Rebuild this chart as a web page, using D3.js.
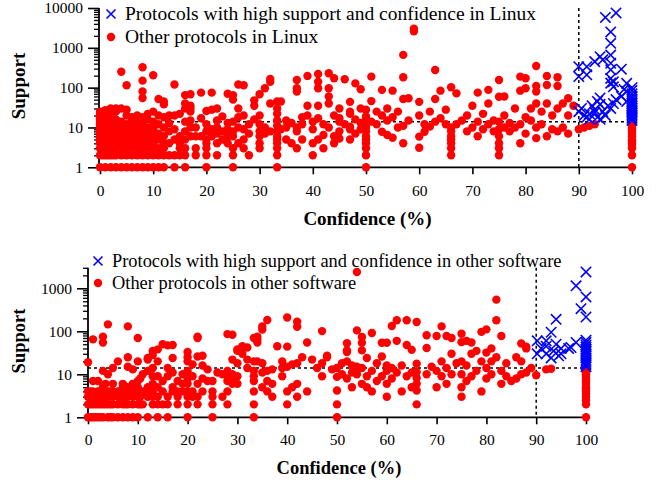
<!DOCTYPE html>
<html><head><meta charset="utf-8">
<script src="https://cdn.jsdelivr.net/npm/d3@7"></script>
<style>
body{margin:0;background:#fff}
svg{display:block}
text{font-family:"Liberation Serif","Times New Roman",serif;fill:#000}
</style>
</head><body>
<svg id="c" width="657" height="480"></svg>
<script>
// ---------- DATA (confidence %, support) ----------
const xTickValues = [0,10,20,30,40,50,60,70,80,90,100];
const yTicksLinux = [1,10,100,1000,10000];
const yTicksOther = [1,10,100,1000];
const supportThreshold = 14;
const confidenceThreshold = 90;

const legendLinux = ["Protocols with high support and confidence in Linux","Other protocols in Linux"];
const legendOther = ["Protocols with high support and confidence in other software","Other protocols in other software"];

// Linux: high support & confidence (blue x)
const linuxHigh = [
 [90,335],[90,190],[91.5,335],[91.5,210],[93,450],[94,600],[94.5,500],[95,5800],[97,7500],
 [96,2500],[96,1300],[96,660],[96,410],[96,280],[96,170],[96,130],[98,290],[96.5,140],[96.5,105],
 [99,128],[100,100],[99,80],[98.5,90],
 [90,25],[90.5,30],[91,20],[92,22],[92.5,35],[93,28],[93.5,45],[94,38],[93.5,18],[94,16],[95,20],
 [96,30],[96.5,40],[97,50],[98,60],[99,45],[91.5,18],[93,24],[94.5,25],[95.5,35],[92,16],[94,55],
 [100,15],[100,17],[100,19],[100,21],[100,23],[100,25],[100,28],[100,31],[100,35],[100,40],
 [100,45],[100,52],[100,60],[100,70],[100,85]
];
// Linux: other protocols (red dots), grouped as [confidence, [supports]]
const linuxOther = [
 [0,[1,2,3,4,5,6,7,8,9,10,12,14,16,18,20,22,25]],[0.5,[2,3,5,7,9,11,13]],
 [1,[1,2,3,4,5,6,8,10,13,17,22,27]],[1.5,[2,3,4,6,9]],[2,[1,2,3,4,5,6,7,9,11,15,20,30]],
 [2.5,[2,3,5,8,12]],[3,[1,2,3,4,5,7,9,12,16,25,30]],[4,[1,2,3,4,5,6,8,10,14,30,250]],
 [4.5,[3,5,7]],[5,[1,2,3,4,6,8,12,20,28,115]],[6,[1,2,3,4,5,7,10,15,18]],[6.5,[4,6,8]],
 [7,[1,2,3,4,5,6,9,13,20]],[8,[1,2,3,4,6,8,12,18,55,80,150,325]],[9,[1,2,3,4,5,7,10,16,22]],
 [10,[1,2,3,4,6,9,14,25,205]],[11,[1,2,3,5,7,12,20,52]],[12,[1,2,3,4,6,10,18,38,45]],
 [13,[2,4,8,13,20]],[14,[1,2,5,9,20,120]],[15,[2,3,4,6,22]],[16,[1,2,3,5,8,14,30,40,65]],
 [17,[6,10,15,25,30,35,68]],[18,[2,3,6,10]],[19,[6,17,75]],[20,[1,2,3,4,5,8,12,26]],
 [21,[6,7,9,28,75]],[22,[2,4,7,10,15,30]],[23,[5,8,19]],[24,[4,6,9,13,70]],
 [25,[1,2,3,6,8,14,50,65]],[26,[4,10,18,30,120]],[27,[3,5,9,20,115]],[28,[2,7,12]],
 [29,[16,35,48]],[30,[3,4,6,8,12,20,68]],[31,[7,10,97]],[32,[8,40,140,165]],
 [33.3,[1,2,3,4,5,6,8,11,15,22,30,45]],[34,[9,45]],[35,[5,10,15]],[36,[4,13]],
 [37,[3,8,10,80,97,156]],[38,[5,12,18]],[39,[20,35,197]],[40,[2,4,9,14]],
 [41,[5,17,35,97,140,220]],[42,[3,6.5,12]],[43,[10,40,60,97,230]],[44,[4,6,20,172]],[45,[5.3,8,14,17,30]],
 [46,[12,163]],[47,[5,9,10.5,22,25,44]],[48,[7,16,128]],[49,[9,13,30,91]],
 [50,[1,2,3,4,5,6,8,10,13,16,19,28]],[51,[14,46,189]],[52,[12,25]],[53,[7.8,20,88]],
 [54,[6.5,15,30]],[55,[5.5,18,84]],[56,[10,25]],[57,[4,11,52,183,665]],[58,[15,54]],
 [59,[2600,3000]],[60,[3.1,5.9,20,44]],[61,[7.8,12]],[62,[10.5,25]],[63,[14,52,277]],
 [64,[17,84]],[65,[12,28]],[66,[2,3,4,5,6,8,10,102]],[67,[12,72]],[68,[15]],[69,[8,20]],
 [70,[10,35]],[71,[6,14,75]],[72,[9,22]],[73,[12,40,88]],[74,[8,15]],
 [75,[2,3,4,6,9,14,59,156]],[76,[10,20,60]],[77,[8,13]],[78,[10,30]],[79,[4,12,84,189]],
 [80,[7,18,97,172]],[81,[15,30]],[82,[5.4,10,40,80,110,350]],[83,[12,25]],[84,[6,40,117,197]],
 [85,[9,20]],[86,[8,30,110,183]],[87,[10,40]],[88,[7,20,54]],[89,[35]],[90,[9]],[91,[10]],
 [92,[11]],[93,[12]],
 [100,[1,2,3,3.5,4,4.5,5,6,7,8,9,10,11,12,13]]
];

// Other software: high support & confidence (blue x)
const otherHigh = [
 [90.2,60],[90.2,30],[92,60],[92,30],[92,45],[93,95],[94,190],[93,24],[93.5,35],[94.5,27],
 [95,40],[96.5,40],[97,42],[98,55],[98,1140],[99,335],[100,2400],[100,630],[100,215],
 [91,40],[94,50],[95,30],
 [100,15],[100,17],[100,19],[100,21],[100,24],[100,27],[100,30],[100,34],[100,38],[100,43],
 [100,48],[100,55],[100,62]
];
// Other software: other protocols (red dots), grouped as [confidence, [supports]]
const otherOther = [
 [0,[1,2,3,4,19]],[0.5,[1,2,3,4]],[1,[1,2,3,4,7,65]],[1.5,[1,2,3]],[2,[1,2,3,4,7]],
 [2.5,[1,2,3,4]],[3,[1,2,3,4,5,12,55,75]],[3.5,[2,3,6]],[4,[1,2,3,4,10,145]],[4.5,[1,2,4]],
 [5,[1,2,3,4,6,14]],[6,[1,2,3,4,20]],[6.5,[3,4]],[7,[1,2,3,5,6]],[7.5,[2,3,4]],
 [8,[1,2,3,4,5,15,25,130]],[9,[1,2,3,4,6,13]],[10,[1,2,3,4,5,7,20,70]],[10.5,[2,3,8]],
 [11,[2,4,10]],[12,[1,3,4,5,12,22,24]],[13,[2,3,4,6,9,14,28,35]],[14,[1,2,3,5,9,20,38]],
 [15,[2,4,7,50]],[16,[1,2,3,9,14,47]],[17,[4,5,11,24,48]],[18,[2,3,4,7]],[19,[4,6,10]],
 [20,[1,2,3,4,6,8,12,20,25,33]],[21,[3,4,9,17]],[22,[2,3,6,26,70,75]],[23,[4,8,16,27]],
 [24,[7,13]],[25,[1,2,3,4,7]],[26,[11]],[27,[3,10]],[28,[2,4,7,9,12,86]],
 [29,[6,8,10,22,83]],[30,[6,9,18,35,38]],[31,[30,45]],[32,[14,22,42]],
 [33.3,[1,2,4,7,9,12,20,70]],[34,[20,55,65,75]],[35,[5,11,18,110,130]],[36,[4,7,12,183]],
 [37,[3,6,13]],[38,[45]],[39,[9,14,20]],[40,[2,4,15,44,210]],[41,[5,17]],
 [42,[3,6,18,127,167]],[43,[25]],[44,[4,55]],[45,[22]],[46,[14]],[47,[9,18,101]],
 [48,[25,27]],[49,[13]],[50,[1,2,4.2,8.7,14]],[51,[10,18]],[52,[8,20,33,36,53]],
 [53,[5,11,16]],[54,[10,15,105,2400]],[55,[6,14,36,54,74]],[56,[5,9,24]],[57,[4,12,91]],
 [58,[7,18]],[59,[9,26,54]],[60,[3,6,12,16,54]],[61,[8,14,133]],[62,[11,60,180]],
 [63,[4,16]],[64,[9,48,180]],[65,[5,11,37]],[66,[2,4.2,6,8.2,11.3,17.6,165]],
 [68,[10,41,81]],[69,[15]],[70,[5,12,78]],[71,[9,20,130]],[72,[6,14,78]],[73,[10,30,70]],
 [74,[18]],[75,[3,5,10,20,56,88]],[76,[7,16,60]],[77,[9,30,55]],[78,[12,35]],
 [79,[4,20,97]],[80,[8,14,32,111]],[81,[10,20,40]],[82,[25,180,545]],[83,[6,12,78]],
 [84,[9,18]],[85,[7]],[86,[8,25]],[87,[10,20,52]],[88,[11,40,44]],[89,[14]],
 [90,[9.5]],[92,[13]],[93,[13.5]],
 [100,[1,2,2.5,3,3.5,4,4.5,5,6,7,8,9,10,11,12,13]]
];

// ---------- DRAWING ----------
const svg = d3.select("#c");
const RED = "#ff0000", BLUE = "#0000ff";
const FONT = "'Liberation Serif','Times New Roman',serif";
const expand = g => g.flatMap(([c, s]) => s.map(v => [c, v]));

function panel(o) {
  const g = svg.append("g");
  const x = d3.scaleLinear().domain([0, 100]).range(o.xr);
  const y = d3.scaleLog().domain(o.yd).range(o.yr);
  const yBase = y(1);

  // minor y ticks
  const minors = [];
  for (let d = 1; d < o.yd[1]; d *= 10)
    for (let k = 2; k <= 9; k++) if (d * k <= o.yd[1] + 1e-9) minors.push(d * k);
  g.append("g").attr("transform", `translate(${o.ax},0)`)
    .call(d3.axisLeft(y).tickValues(minors).tickSize(5).tickFormat(""))
    .call(a => a.select(".domain").remove())
    .call(a => a.selectAll("line").attr("stroke", "#000").attr("stroke-width", 1.3));
  // major y ticks
  g.append("g").attr("transform", `translate(${o.ax},0)`).attr("font-family", FONT)
    .call(d3.axisLeft(y).tickValues(o.yTicks).tickSize(11).tickPadding(5).tickFormat(d3.format("d")))
    .call(a => a.select(".domain").remove())
    .call(a => a.selectAll("line").attr("stroke", "#000").attr("stroke-width", 1.6))
    .call(a => a.selectAll("text").attr("font-size", o.tickFs));
  // y axis line
  g.append("line").attr("x1", o.ax).attr("x2", o.ax).attr("y1", y(o.yd[1])).attr("y2", yBase)
    .attr("stroke", "#000").attr("stroke-width", 1.8);

  // x axis
  g.append("g").attr("transform", `translate(0,${yBase})`).attr("font-family", FONT)
    .call(d3.axisBottom(x).tickValues(xTickValues).tickSize(7).tickPadding(o.xPad).tickFormat(d3.format("d")))
    .call(a => a.select(".domain").remove())
    .call(a => a.selectAll("line").attr("stroke", "#000").attr("stroke-width", 1.6))
    .call(a => a.selectAll("text").attr("font-size", o.tickFs));
  g.append("line").attr("x1", o.ax).attr("x2", o.xEnd).attr("y1", yBase).attr("y2", yBase)
    .attr("stroke", "#000").attr("stroke-width", 1.8);

  // threshold lines
  g.append("line").attr("x1", o.ax).attr("x2", o.xEnd)
    .attr("y1", y(supportThreshold)).attr("y2", y(supportThreshold))
    .attr("stroke", "#000").attr("stroke-width", 1.5).attr("stroke-dasharray", "3,3");
  g.append("line").attr("x1", x(confidenceThreshold)).attr("x2", x(confidenceThreshold))
    .attr("y1", y(o.yd[1])).attr("y2", yBase)
    .attr("stroke", "#000").attr("stroke-width", 1.5).attr("stroke-dasharray", "3,3");

  // red dots
  g.append("g").selectAll("circle").data(expand(o.other)).join("circle")
    .attr("cx", d => x(d[0])).attr("cy", d => y(d[1])).attr("r", 4.2).attr("fill", RED);
  // blue crosses
  const s = 5.2;
  g.append("g").selectAll("path").data(o.high).join("path")
    .attr("d", d => { const cx = x(d[0]), cy = y(d[1]);
      return `M${cx-s},${cy-s}L${cx+s},${cy+s}M${cx-s},${cy+s}L${cx+s},${cy-s}`; })
    .attr("stroke", BLUE).attr("stroke-width", 1.6).attr("fill", "none");

  // axis titles
  g.append("text").attr("x", (o.ax + o.xEnd) / 2).attr("y", o.xTitleY).attr("text-anchor", "middle")
    .attr("font-weight", "bold").attr("font-size", o.titleFs).text("Confidence (%)");
  g.append("text").attr("transform", `translate(${o.yTitleX},${o.yTitleY}) rotate(-90)`)
    .attr("text-anchor", "middle").attr("font-weight", "bold").attr("font-size", o.titleFs).text("Support");

  // legend
  const lx = o.legX, ls = 4.5;
  g.append("path").attr("d", `M${lx-ls},${o.legY1-ls}L${lx+ls},${o.legY1+ls}M${lx-ls},${o.legY1+ls}L${lx+ls},${o.legY1-ls}`)
    .attr("stroke", BLUE).attr("stroke-width", 1.6);
  g.append("circle").attr("cx", lx).attr("cy", o.legY2).attr("r", 4.2).attr("fill", RED);
  g.append("text").attr("x", o.legTx).attr("y", o.legY1 + o.legFs * 0.33).attr("font-size", o.legFs).text(o.legend[0]);
  g.append("text").attr("x", o.legTx).attr("y", o.legY2 + o.legFs * 0.33).attr("font-size", o.legFs).text(o.legend[1]);
}

panel({
  xr: [100, 632], ax: 99, xEnd: 636, yd: [1, 10000], yr: [167.3, 8], yTicks: yTicksLinux,
  other: linuxOther, high: linuxHigh, tickFs: 15.5, titleFs: 19, xPad: 11,
  xTitleY: 225, yTitleX: 25, yTitleY: 86,
  legX: 111, legY1: 14, legY2: 37, legTx: 125, legFs: 19.5, legend: legendLinux
});
panel({
  xr: [88, 586], ax: 88, xEnd: 590, yd: [1, 3000], yr: [417.3, 417.3 - 43 * Math.log10(3000)], yTicks: yTicksOther,
  other: otherOther, high: otherHigh, tickFs: 15.5, titleFs: 18.5, xPad: 10,
  xTitleY: 474, yTitleX: 25, yTitleY: 341,
  legX: 98, legY1: 261, legY2: 283, legTx: 112, legFs: 18.4, legend: legendOther
});
</script>
</body></html>
